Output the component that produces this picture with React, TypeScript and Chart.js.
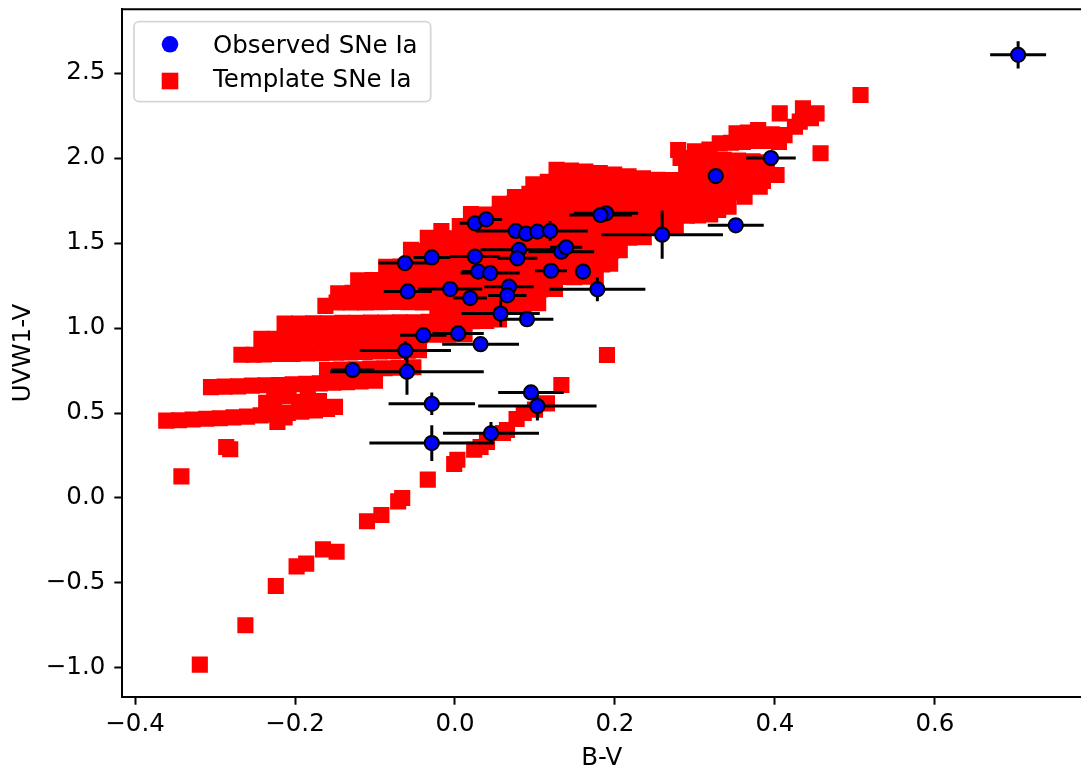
import React, { useEffect, useRef } from 'react';
import { Chart, registerables } from 'chart.js';

Chart.register(...registerables);

type P = [number, number];

// ---------- Observed SNe Ia (B-V, UVW1-V, errors) ----------
const obsX = [0.704, 0.395, 0.326, 0.351, 0.259, 0.189, 0.182, 0.025, 0.039, 0.076, 0.089, 0.103, 0.119, 0.080, 0.078, 0.133, 0.139, -0.0625, -0.029, 0.025, 0.029, 0.044, 0.120, 0.160, -0.059, -0.006, 0.0675, 0.0654, 0.019, 0.178, 0.057, 0.090, -0.0396, 0.004, 0.032, -0.062, -0.128, -0.060, -0.029, -0.029, 0.045, 0.095, 0.103];
const obsY = [2.607, 2.000, 1.894, 1.604, 1.549, 1.675, 1.665, 1.616, 1.639, 1.571, 1.555, 1.567, 1.571, 1.460, 1.410, 1.449, 1.475, 1.382, 1.415, 1.420, 1.332, 1.323, 1.337, 1.332, 1.215, 1.229, 1.243, 1.192, 1.176, 1.228, 1.085, 1.052, 0.958, 0.968, 0.905, 0.867, 0.753, 0.743, 0.554, 0.323, 0.381, 0.621, 0.541];
const obsXErr = [0.035, 0.031, 0.005, 0.035, 0.076, 0.040, 0.039, 0.019, 0.020, 0.050, 0.020, 0.020, 0.047, 0.048, 0.025, 0.041, 0.020, 0.033, 0.023, 0.031, 0.020, 0.037, 0.020, 0.005, 0.030, 0.040, 0.031, 0.024, 0.021, 0.060, 0.049, 0.033, 0.029, 0.032, 0.048, 0.057, 0.027, 0.096, 0.054, 0.078, 0.060, 0.041, 0.074];
const obsYErr = [0.080, 0.020, 0.005, 0.015, 0.142, 0.015, 0.015, 0.010, 0.010, 0.030, 0.010, 0.010, 0.058, 0.020, 0.020, 0.020, 0.020, 0.010, 0.010, 0.010, 0.010, 0.020, 0.010, 0.005, 0.010, 0.010, 0.030, 0.010, 0.010, 0.070, 0.078, 0.010, 0.010, 0.010, 0.030, 0.055, 0.010, 0.135, 0.066, 0.105, 0.066, 0.010, 0.085];

// ---------- Template SNe Ia tracks ----------
const lowBranch: P[] = [[-0.319, -0.980], [-0.262, -0.749], [-0.224, -0.518], [-0.198, -0.402], [-0.186, -0.386], [-0.165, -0.302], [-0.148, -0.316], [-0.110, -0.137], [-0.092, -0.100], [-0.071, -0.020], [-0.066, 0.000], [-0.034, 0.108], [-0.001, 0.200], [0.003, 0.225], [0.024, 0.284], [0.032, 0.300], [0.040, 0.330], [0.060, 0.382], [0.065, 0.400], [0.077, 0.465], [0.086, 0.500], [0.100, 0.520], [0.115, 0.557], [0.133, 0.665], [0.190, 0.841]];
const isolated: P[] = [[-0.342, 0.127], [-0.286, 0.300], [-0.281, 0.287], [0.457, 2.028], [0.507, 2.371]];
const bandA: P[] = [[-0.361, 0.455], [-0.345, 0.457], [-0.328, 0.462], [-0.311, 0.466], [-0.294, 0.469], [-0.277, 0.474], [-0.260, 0.479], [-0.243, 0.486], [-0.226, 0.492], [-0.209, 0.500], [-0.192, 0.507], [-0.175, 0.515], [-0.160, 0.524], [-0.150, 0.536]];
const bandAExtra: P[] = [[-0.222, 0.447], [-0.213, 0.474], [-0.236, 0.560], [-0.226, 0.578], [-0.208, 0.598], [-0.195, 0.566], [-0.184, 0.592], [-0.170, 0.570]];
const bandB: P[] = [[-0.305, 0.652], [-0.288, 0.655], [-0.271, 0.657], [-0.254, 0.661], [-0.237, 0.663], [-0.220, 0.665], [-0.203, 0.669], [-0.186, 0.672], [-0.169, 0.674], [-0.152, 0.678], [-0.135, 0.682], [-0.118, 0.685], [-0.100, 0.690]];
const slabC0: P[] = [[-0.160, 0.752], [-0.142, 0.756], [-0.124, 0.757], [-0.106, 0.761], [-0.088, 0.763], [-0.070, 0.766], [-0.052, 0.769]];
const slabC1: P[] = [[-0.267, 0.843], [-0.252, 0.843], [-0.239, 0.844], [-0.221, 0.847], [-0.203, 0.848], [-0.185, 0.851], [-0.167, 0.852], [-0.149, 0.855], [-0.131, 0.857], [-0.113, 0.859], [-0.095, 0.862], [-0.077, 0.864], [-0.059, 0.866], [-0.045, 0.869]];
const slabC2: P[] = [[-0.242, 0.936], [-0.224, 0.937], [-0.206, 0.940], [-0.188, 0.941], [-0.170, 0.944], [-0.152, 0.945], [-0.134, 0.948], [-0.116, 0.949], [-0.098, 0.952], [-0.080, 0.953], [-0.062, 0.956], [-0.044, 0.957], [-0.026, 0.960], [-0.008, 0.961], [0.012, 0.964]];
const slabC3: P[] = [[-0.213, 1.026], [-0.195, 1.026], [-0.177, 1.028], [-0.159, 1.028], [-0.141, 1.030], [-0.123, 1.030], [-0.105, 1.032], [-0.087, 1.032], [-0.069, 1.034], [-0.051, 1.034], [-0.033, 1.036], [-0.015, 1.037], [0.003, 1.038], [0.021, 1.040], [0.039, 1.042], [0.055, 1.050]];
const up0: P[] = [[-0.162, 1.130], [-0.148, 1.150], [-0.130, 1.151], [-0.112, 1.150], [-0.094, 1.152], [-0.076, 1.153], [-0.058, 1.152], [-0.040, 1.150], [-0.022, 1.130], [-0.004, 1.126], [0.014, 1.125], [0.032, 1.129], [0.050, 1.134], [0.068, 1.138], [0.086, 1.142], [0.104, 1.146]];
const up1: P[] = [[-0.146, 1.204], [-0.128, 1.207], [-0.110, 1.209], [-0.092, 1.212], [-0.074, 1.211], [-0.056, 1.214], [-0.038, 1.216], [-0.020, 1.215], [-0.002, 1.218], [0.016, 1.220], [0.034, 1.219], [0.052, 1.222], [0.070, 1.225], [0.088, 1.224], [0.106, 1.227], [0.125, 1.230]];
const up2: P[] = [[-0.121, 1.280], [-0.103, 1.282], [-0.085, 1.284], [-0.067, 1.283], [-0.049, 1.286], [-0.031, 1.288], [-0.013, 1.287], [0.005, 1.290], [0.023, 1.292], [0.041, 1.291], [0.059, 1.294], [0.077, 1.296], [0.095, 1.295], [0.113, 1.298], [0.131, 1.300], [0.149, 1.299], [0.165, 1.302], [0.176, 1.305]];
const up3: P[] = [[-0.086, 1.360], [-0.068, 1.361], [-0.050, 1.363], [-0.032, 1.362], [-0.014, 1.365], [0.004, 1.366], [0.022, 1.365], [0.040, 1.368], [0.058, 1.369], [0.076, 1.368], [0.094, 1.371], [0.112, 1.372], [0.130, 1.371], [0.148, 1.374], [0.166, 1.375], [0.184, 1.374], [0.194, 1.378]];
const up4: P[] = [[-0.055, 1.460], [-0.037, 1.452], [-0.019, 1.450], [-0.001, 1.451], [0.017, 1.449], [0.035, 1.452], [0.053, 1.450], [0.071, 1.453], [0.089, 1.451], [0.107, 1.454], [0.125, 1.452], [0.143, 1.455], [0.161, 1.453], [0.179, 1.456], [0.195, 1.455], [0.206, 1.458]];
const up5: P[] = [[-0.034, 1.530], [-0.017, 1.570], [-0.016, 1.528], [0.002, 1.527], [0.020, 1.529], [0.038, 1.527], [0.056, 1.530], [0.074, 1.528], [0.092, 1.531], [0.110, 1.529], [0.128, 1.532], [0.146, 1.530], [0.164, 1.533], [0.182, 1.531], [0.200, 1.534], [0.218, 1.532], [0.236, 1.535]];
const up6: P[] = [[0.006, 1.600], [0.024, 1.598], [0.042, 1.599], [0.060, 1.597], [0.078, 1.598], [0.096, 1.596], [0.114, 1.597], [0.132, 1.595], [0.150, 1.596], [0.168, 1.594], [0.186, 1.595], [0.204, 1.593], [0.222, 1.594], [0.240, 1.592], [0.258, 1.593], [0.276, 1.591]];
const up7: P[] = [[0.020, 1.670], [0.038, 1.668], [0.056, 1.669], [0.074, 1.667], [0.092, 1.668], [0.110, 1.666], [0.128, 1.667], [0.146, 1.665], [0.164, 1.666], [0.182, 1.664], [0.200, 1.665], [0.218, 1.663], [0.236, 1.664], [0.254, 1.662], [0.272, 1.663], [0.290, 1.661], [0.304, 1.662]];
const steepRight: P[] = [[0.319, 1.668], [0.329, 1.694], [0.342, 1.714], [0.362, 1.772], [0.381, 1.831], [0.402, 1.900]];
const up8: P[] = [[0.056, 1.730], [0.074, 1.732], [0.092, 1.731], [0.110, 1.733], [0.128, 1.732], [0.146, 1.734], [0.164, 1.733], [0.182, 1.735], [0.200, 1.734], [0.218, 1.736], [0.236, 1.735], [0.254, 1.737], [0.272, 1.736], [0.290, 1.738], [0.308, 1.737], [0.326, 1.739], [0.336, 1.740]];
const up9: P[] = [[0.075, 1.770], [0.093, 1.790], [0.111, 1.792], [0.129, 1.791], [0.147, 1.793], [0.165, 1.792], [0.183, 1.794], [0.201, 1.793], [0.219, 1.795], [0.237, 1.794], [0.255, 1.796], [0.273, 1.795], [0.291, 1.797], [0.309, 1.796], [0.327, 1.798], [0.345, 1.797], [0.360, 1.800]];
const up10: P[] = [[0.098, 1.845], [0.116, 1.860], [0.134, 1.861], [0.152, 1.860], [0.170, 1.862], [0.188, 1.861], [0.206, 1.860], [0.224, 1.855], [0.242, 1.852], [0.260, 1.850], [0.278, 1.856], [0.296, 1.860], [0.314, 1.862], [0.332, 1.861], [0.350, 1.863], [0.368, 1.862], [0.385, 1.865]];
const up11: P[] = [[0.127, 1.930], [0.145, 1.926], [0.163, 1.920], [0.181, 1.912], [0.199, 1.903], [0.217, 1.892], [0.235, 1.880], [0.253, 1.872], [0.271, 1.870], [0.289, 1.928], [0.307, 1.930], [0.325, 1.934], [0.343, 1.938], [0.361, 1.940], [0.379, 1.944], [0.390, 1.950]];
const tail1: P[] = [[0.279, 2.047], [0.282, 2.000], [0.300, 1.996], [0.318, 1.995], [0.336, 1.990], [0.354, 1.985], [0.372, 1.980], [0.386, 1.975]];
const tail2: P[] = [[0.300, 2.040], [0.318, 2.050], [0.331, 2.086], [0.345, 2.090], [0.360, 2.095], [0.375, 2.100], [0.390, 2.100], [0.405, 2.095]];
const tail3: P[] = [[0.352, 2.145], [0.366, 2.150], [0.379, 2.165], [0.396, 2.140], [0.412, 2.135], [0.425, 2.184], [0.431, 2.214]];
const tail4: P[] = [[0.406, 2.263], [0.435, 2.292], [0.452, 2.263], [0.445, 2.235]];

const templateTracks: P[][] = [lowBranch, isolated, bandA, bandAExtra, bandB, slabC0, slabC1, slabC2, slabC3, up0, up1, up2, up3, up4, up5, up6, up7, steepRight, up8, up9, up10, up11, tail1, tail2, tail3, tail4];

// ---------- Axes ----------
const xTicks = [-0.4, -0.2, 0.0, 0.2, 0.4, 0.6];
const yTicks = [-1.0, -0.5, 0.0, 0.5, 1.0, 1.5, 2.0, 2.5];
const xLabel = 'B-V';
const yLabel = 'UVW1-V';
const legendLabels = ['Observed SNe Ia', 'Template SNe Ia'];

const FONT = 'DejaVu Sans';
const FS = 24.5;
const fmt = (v: number) => v.toFixed(1).replace('-', '\u2212');

const errorBarPlugin = {
  id: 'errorBars',
  beforeDatasetDraw(chart: any, args: any) {
    if (args.index !== 0) return;
    const { ctx, chartArea, scales } = chart;
    const xs = scales.x, ys = scales.y;
    ctx.save();
    ctx.beginPath();
    ctx.rect(chartArea.left, chartArea.top, chartArea.right - chartArea.left, chartArea.bottom - chartArea.top);
    ctx.clip();
    ctx.strokeStyle = '#000';
    ctx.lineWidth = 3;
    ctx.lineCap = 'butt';
    ctx.beginPath();
    obsX.forEach((v, i) => {
      const px = xs.getPixelForValue(v);
      const py = ys.getPixelForValue(obsY[i]);
      ctx.moveTo(xs.getPixelForValue(v - obsXErr[i]), py);
      ctx.lineTo(xs.getPixelForValue(v + obsXErr[i]), py);
      ctx.moveTo(px, ys.getPixelForValue(obsY[i] - obsYErr[i]));
      ctx.lineTo(px, ys.getPixelForValue(obsY[i] + obsYErr[i]));
    });
    ctx.stroke();
    ctx.restore();
  },
};

const framePlugin = {
  id: 'frameAndLegend',
  afterDraw(chart: any) {
    const { ctx, chartArea } = chart;
    ctx.save();
    // top spine
    ctx.strokeStyle = '#000';
    ctx.lineWidth = 2;
    ctx.beginPath();
    ctx.moveTo(chartArea.left - 1, chartArea.top);
    ctx.lineTo(chartArea.right, chartArea.top);
    ctx.stroke();
    // legend box
    const bx = 134, by = 21.7, bw = 296.7, bh = 80, r = 5;
    ctx.beginPath();
    ctx.moveTo(bx + r, by);
    ctx.lineTo(bx + bw - r, by);
    ctx.arcTo(bx + bw, by, bx + bw, by + r, r);
    ctx.lineTo(bx + bw, by + bh - r);
    ctx.arcTo(bx + bw, by + bh, bx + bw - r, by + bh, r);
    ctx.lineTo(bx + r, by + bh);
    ctx.arcTo(bx, by + bh, bx, by + bh - r, r);
    ctx.lineTo(bx, by + r);
    ctx.arcTo(bx, by, bx + r, by, r);
    ctx.closePath();
    ctx.fillStyle = 'rgba(255,255,255,0.8)';
    ctx.fill();
    ctx.strokeStyle = 'rgba(204,204,204,0.8)';
    ctx.lineWidth = 1.8;
    ctx.stroke();
    // markers
    ctx.fillStyle = '#0000ff';
    ctx.beginPath();
    ctx.arc(170, 44.3, 8.3, 0, Math.PI * 2);
    ctx.fill();
    ctx.fillStyle = '#ff0000';
    ctx.fillRect(170 - 8.3, 81 - 8.3, 16.6, 16.6);
    // texts
    ctx.fillStyle = '#000';
    ctx.font = `${FS}px "${FONT}"`;
    ctx.textBaseline = 'alphabetic';
    ctx.textAlign = 'left';
    ctx.fillText(legendLabels[0], 213, 52.6);
    ctx.fillText(legendLabels[1], 213, 86.8);
    ctx.restore();
  },
};

const zeroPad = (s: any) => {
  s.paddingTop = 0;
  s.paddingBottom = 0;
  s.paddingLeft = 0;
  s.paddingRight = 0;
};

export default function App() {
  const ref = useRef<HTMLCanvasElement>(null);
  useEffect(() => {
    if (!ref.current) return;
    const templateData = templateTracks.flat().map(([x, y]) => ({ x, y }));
    const obsData = obsX.map((x, i) => ({ x, y: obsY[i] }));
    const tickFont = { family: FONT, size: FS };
    const chart = new Chart(ref.current, {
      type: 'scatter',
      data: {
        datasets: [
          {
            label: legendLabels[0],
            data: obsData,
            pointStyle: 'circle',
            pointRadius: 7.1,
            pointBorderWidth: 2,
            pointBackgroundColor: '#0000ff',
            pointBorderColor: '#000000',
          },
          {
            label: legendLabels[1],
            data: templateData,
            pointStyle: 'rect',
            pointRadius: 11.4,
            pointBorderWidth: 0,
            pointBackgroundColor: '#ff0000',
            pointBorderColor: '#ff0000',
          },
        ],
      },
      options: {
        animation: false,
        responsive: false,
        maintainAspectRatio: false,
        events: [],
        layout: { autoPadding: false, padding: { top: 9.3, right: 0, left: 0, bottom: 0 } },
        plugins: { legend: { display: false }, tooltip: { enabled: false } },
        scales: {
          x: {
            type: 'linear',
            min: -0.4159,
            max: 0.7826,
            afterBuildTicks: (s: any) => { s.ticks = xTicks.map((v) => ({ value: v })); },
            afterFit: (s: any) => { s.height = 77.3; zeroPad(s); },
            ticks: { callback: (v: any) => fmt(Number(v)), font: tickFont, color: '#000', padding: 5, maxRotation: 0, autoSkip: false },
            grid: { display: true, drawOnChartArea: false, drawTicks: true, tickLength: 8, tickWidth: 2, tickColor: '#000' },
            border: { display: true, color: '#000', width: 2 },
            title: { display: true, text: xLabel, font: tickFont, color: '#000', padding: { top: 0, bottom: 1 } },
          },
          y: {
            type: 'linear',
            min: -1.169,
            max: 2.875,
            afterBuildTicks: (s: any) => { s.ticks = yTicks.map((v) => ({ value: v })); },
            afterFit: (s: any) => { s.width = 122.3; zeroPad(s); },
            ticks: { callback: (v: any) => fmt(Number(v)), font: tickFont, color: '#000', padding: 9, autoSkip: false },
            grid: { display: true, drawOnChartArea: false, drawTicks: true, tickLength: 8, tickWidth: 2, tickColor: '#000' },
            border: { display: true, color: '#000', width: 2 },
            title: { display: true, text: yLabel, font: tickFont, color: '#000', padding: { top: 8.5, bottom: 0 } },
          },
        },
      },
      plugins: [errorBarPlugin, framePlugin],
    } as any);
    return () => chart.destroy();
  }, []);
  return (
    <div style={{ position: 'absolute', left: 0, top: 0, width: 1081, height: 774, background: '#fff' }}>
      <canvas ref={ref} width={1081} height={774} style={{ display: 'block' }} />
    </div>
  );
}
